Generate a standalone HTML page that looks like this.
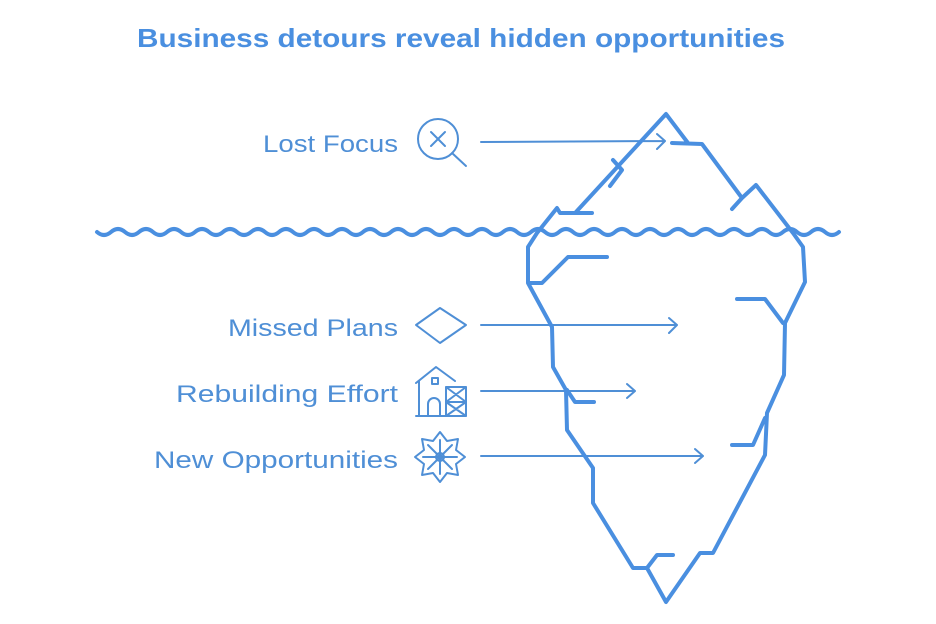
<!DOCTYPE html>
<html><head><style>html,body{margin:0;padding:0;background:#fff}svg{display:block}</style></head>
<body>
<svg width="936" height="624" viewBox="0 0 936 624" xmlns="http://www.w3.org/2000/svg">
<g font-family="Liberation Sans, sans-serif" fill="#4a8fe0">
<text x="137" y="47" font-size="26" font-weight="bold" textLength="648" lengthAdjust="spacingAndGlyphs">Business detours reveal hidden opportunities</text>
<g font-size="24" fill="#4f8fd6">
<text x="263" y="152" textLength="135" lengthAdjust="spacingAndGlyphs">Lost Focus</text>
<text x="228" y="336" textLength="170" lengthAdjust="spacingAndGlyphs">Missed Plans</text>
<text x="176" y="402" textLength="222" lengthAdjust="spacingAndGlyphs">Rebuilding Effort</text>
<text x="154" y="468" textLength="244" lengthAdjust="spacingAndGlyphs">New Opportunities</text>
</g>
</g>
<!-- icons -->
<g fill="none" stroke="#4f8fd6" stroke-width="2" stroke-linecap="round" stroke-linejoin="round">
<circle cx="438" cy="139" r="20"/>
<line x1="452" y1="153" x2="466" y2="166"/>
<line x1="431" y1="132" x2="445" y2="146"/><line x1="445" y1="132" x2="431" y2="146"/>
<path d="M416 325 L440 308 L466 325 L440 343 Z"/>
<path d="M416 383 L436 367 L455 381 M419 381 V416 M416 416 H466 M428 416 V404 a6 6 0 0 1 12 0 V416 M432 378 h6 v6 h-6z M446 387 V416 M466 387 V416 M446 387 H466 M446 402 H466 M446 387 L466 402 M466 387 L446 402 M446 402 L466 416 M466 402 L446 416"/>
<path d="M440 432 L447 441 L458 439 L456 450 L465 457 L456 464 L458 475 L447 473 L440 482 L433 473 L422 475 L424 464 L415 457 L424 450 L422 439 L433 441 Z"/>
<path d="M440 440 V474 M423 457 H457 M428 445 L452 469 M452 445 L428 469"/>
<circle cx="440" cy="457" r="4"/>
</g>
<!-- arrows -->
<g fill="none" stroke="#4f8fd6" stroke-width="2" stroke-linecap="round" stroke-linejoin="round">
<path d="M481 142 L665 141 M657 134 L665 141 L657 149"/>
<path d="M481 325 L677 325 M669 318 L677 325 L669 333"/>
<path d="M481 391 L635 391 M627 384 L635 391 L627 398"/>
<path d="M481 456 L703 456 M695 449 L703 456 L695 463"/>
</g>
<!-- iceberg -->
<g fill="none" stroke="#4a8fe0" stroke-width="4" stroke-linecap="round" stroke-linejoin="round">
<path d="M666 114 L688 143 M672 143 L702 144 L742 198 M732 209 L742 198 L756 185 L793 233 L803 247 L805 282 L785 323 L784 375 L767 413 L765 455 L713 553 L700 553 L666 602 L647 568 L633 568 L593 503 L593 468 L567 430 L566 390 L553 367 L552 327 L528 283 L528 247 L537 233 L557 208 L560 213 L592 213 M666 114 L576 212"/>
<path d="M610 186 L622 170 L613 160"/>
<path d="M530 283 L542 283 L568 257 L607 257"/>
<path d="M737 299 L765 299 L783 323"/>
<path d="M567 390 L575 402 L594 402"/>
<path d="M732 445 L753 445 L765 418"/>
<path d="M647 568 L657 555 L673 555"/>
</g>
<!-- water -->
<path fill="none" stroke="#4a8fe0" stroke-width="4" stroke-linecap="round" d="M97 232 q7 6 14 0 q7 -6 14 0 q7 6 14 0 q7 -6 14 0 q7 6 14 0 q7 -6 14 0 q7 6 14 0 q7 -6 14 0 q7 6 14 0 q7 -6 14 0 q7 6 14 0 q7 -6 14 0 q7 6 14 0 q7 -6 14 0 q7 6 14 0 q7 -6 14 0 q7 6 14 0 q7 -6 14 0 q7 6 14 0 q7 -6 14 0 q7 6 14 0 q7 -6 14 0 q7 6 14 0 q7 -6 14 0 q7 6 14 0 q7 -6 14 0 q7 6 14 0 q7 -6 14 0 q7 6 14 0 q7 -6 14 0 q7 6 14 0 q7 -6 14 0 q7 6 14 0 q7 -6 14 0 q7 6 14 0 q7 -6 14 0 q7 6 14 0 q7 -6 14 0 q7 6 14 0 q7 -6 14 0 q7 6 14 0 q7 -6 14 0 q7 6 14 0 q7 -6 14 0 q7 6 14 0 q7 -6 14 0 q7 6 14 0 q7 -6 14 0 q7 6 14 0 q7 -6 14 0 q7 6 14 0 q7 -6 14 0 q7 6 14 0"/>
</svg>
</body></html>
